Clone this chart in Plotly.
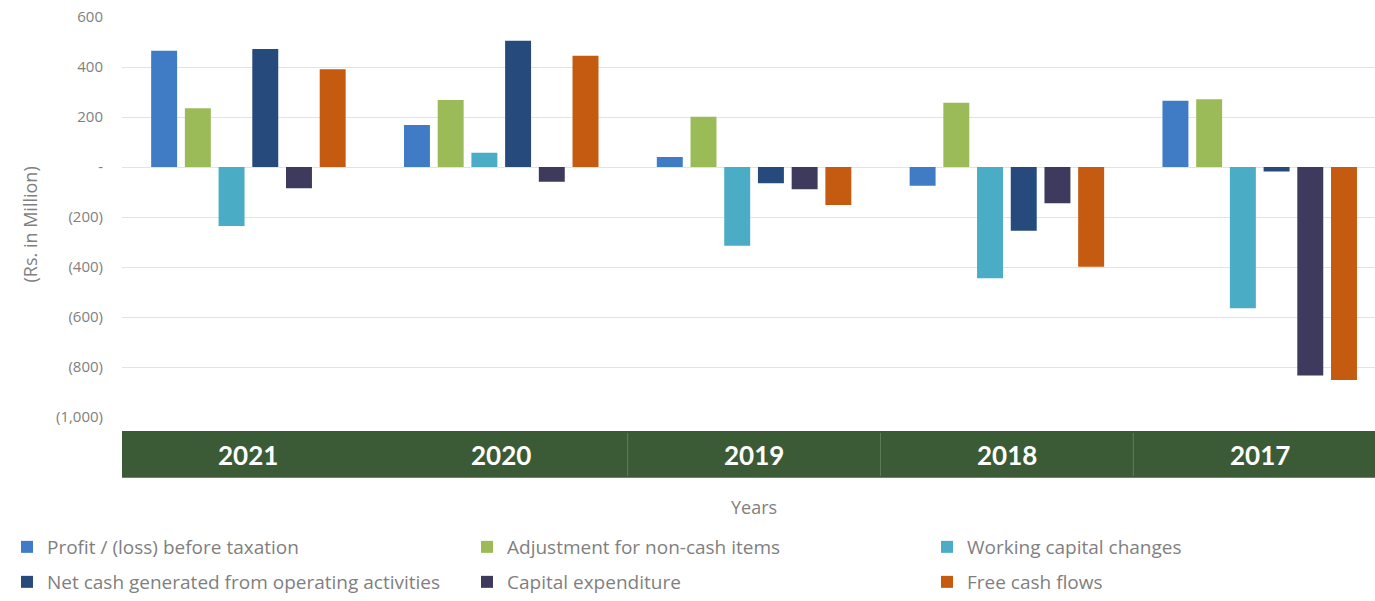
import plotly.graph_objects as go

# Years (categories) and cash-flow components, Rs. in Million
years = ["2021", "2020", "2019", "2018", "2017"]

profit_before_tax = [465, 168, 40, -75, 265]
non_cash_adjustments = [235, 268, 201, 257, 271]
working_capital_changes = [-236, 57, -315, -445, -565]
net_cash_operations = [472, 505, -65, -255, -18]
capital_expenditure = [-85, -59, -89, -145, -834]
free_cash_flows = [391, 445, -152, -399, -852]

series_names = [
    "Profit / (loss) before taxation",
    "Adjustment for non-cash items",
    "Working capital changes",
    "Net cash generated from operating activities",
    "Capital expenditure",
    "Free cash flows",
]

y_tick_values = [600, 400, 200, 0, -200, -400, -600, -800, -1000]
y_tick_text = ["600", "400", "200", "-", "(200)", "(400)", "(600)", "(800)", "(1,000)"]

colors = ["#3F7CC5", "#9BBB59", "#4BACC6", "#264A7C", "#3E3A5E", "#C55A11"]
series_values = [
    profit_before_tax,
    non_cash_adjustments,
    working_capital_changes,
    net_cash_operations,
    capital_expenditure,
    free_cash_flows,
]

W, H = 1375, 601
PLOT_L, PLOT_R, PLOT_T, PLOT_B = 122, 1375, 17, 418
ph = PLOT_B - PLOT_T
pw = PLOT_R - PLOT_L


def py(pix):
    """pixel row -> paper y"""
    return (PLOT_B - pix) / ph


def px(pix):
    """pixel column -> paper x"""
    return (pix - PLOT_L) / pw


fig = go.Figure()
for i, (name, vals, col) in enumerate(zip(series_names, series_values, colors)):
    fig.add_trace(
        go.Bar(
            x=list(range(len(years))),
            y=vals,
            name=name,
            marker=dict(color=col, line=dict(width=0)),
            legend="legend" if i < 3 else "legend2",
            # first two legend columns share a fixed width, the last one is narrower
            legendwidth=415 if i % 3 < 2 else 280,
        )
    )

grey = "#7F7F7F"
text_font = "'Open Sans', sans-serif"
band_font = "Lato, 'Open Sans', sans-serif"

shapes = [
    # dark green category band
    dict(type="rect", xref="paper", yref="paper", x0=0, x1=1,
         y0=py(479), y1=py(432), fillcolor="#3B5B36", line=dict(width=0),
         layer="below"),
]
for b in [1.5, 2.5, 3.5]:
    shapes.append(dict(type="line", xref="x", yref="paper", x0=b, x1=b,
                       y0=py(477), y1=py(434),
                       line=dict(color="#5F7E55", width=1)))

annotations = []
for i, yr in enumerate(years):
    annotations.append(dict(x=i, y=py(456), xref="x", yref="paper", text=yr,
                            showarrow=False, xanchor="center", yanchor="middle",
                            font=dict(family=band_font, size=26, color="white",
                                      weight="bold")))
annotations.append(dict(x=2, y=py(508), xref="x", yref="paper", text="Years",
                        showarrow=False, xanchor="center", yanchor="middle",
                        font=dict(family=text_font, size=18, color=grey)))
annotations.append(dict(x=px(30), y=py(225), xref="paper", yref="paper",
                        text="(Rs. in Million)", textangle=-90, showarrow=False,
                        xanchor="center", yanchor="middle",
                        font=dict(family=text_font, size=18, color=grey)))

legend_common = dict(
    orientation="h", xanchor="left", yanchor="middle",
    entrywidthmode="pixels",
    font=dict(family=text_font, size=19, color=grey),
    bgcolor="rgba(0,0,0,0)", borderwidth=0,
)

fig.update_layout(
    width=W, height=H,
    margin=dict(l=PLOT_L, r=W - PLOT_R, t=PLOT_T, b=H - PLOT_B, pad=0),
    paper_bgcolor="white", plot_bgcolor="white",
    barmode="group", bargap=0.2, bargroupgap=0.23,
    shapes=shapes, annotations=annotations,
    legend=dict(x=px(7), y=py(547), **legend_common),
    legend2=dict(x=px(7), y=py(584), **legend_common),
    xaxis=dict(range=[-0.5, 4.456], showticklabels=False, showgrid=False,
               zeroline=False, showline=False, ticks=""),
    yaxis=dict(range=[-1000, 600], tickvals=y_tick_values, ticktext=y_tick_text,
               showgrid=True, gridcolor="#E3E3E3", gridwidth=1, zeroline=False,
               showline=False, ticks="outside", ticklen=15, tickcolor="rgba(0,0,0,0)",
               tickfont=dict(family=text_font, size=15, color=grey)),
)

fig.write_html("out.html")
